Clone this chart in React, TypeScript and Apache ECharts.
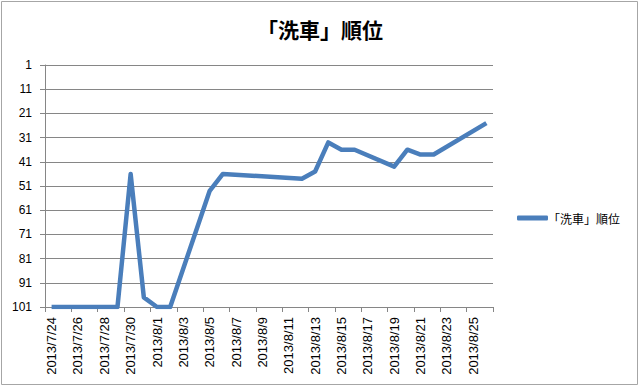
import React, { useEffect, useRef } from "react";
import * as echarts from "echarts";

const title = "「洗車」順位";
const seriesName = "「洗車」順位";
const categories = [
  "2013/7/24", "2013/7/25", "2013/7/26", "2013/7/27", "2013/7/28", "2013/7/29", "2013/7/30", "2013/7/31",
  "2013/8/1", "2013/8/2", "2013/8/3", "2013/8/4", "2013/8/5", "2013/8/6", "2013/8/7", "2013/8/8",
  "2013/8/9", "2013/8/10", "2013/8/11", "2013/8/12", "2013/8/13", "2013/8/14", "2013/8/15", "2013/8/16",
  "2013/8/17", "2013/8/18", "2013/8/19", "2013/8/20", "2013/8/21", "2013/8/22", "2013/8/23", "2013/8/24",
  "2013/8/25", "2013/8/26",
];
const ranks: (number | null)[] = [
  101, 101, 101, 101, 101, 101, 46, 97,
  101, 101, null, null, 53, 46, null, null,
  null, null, null, 48, 45, 33, 36, 36,
  null, null, 43, 36, 38, 38, null, null,
  null, 25,
];
const yMin = 1;
const yMax = 101;
const yStep = 10;

export default function App() {
  const ref = useRef<HTMLDivElement>(null);
  useEffect(() => {
    if (!ref.current) return;
    const chart = echarts.init(ref.current, undefined, { renderer: "svg" });
    const font = "'Liberation Sans', 'Noto Sans CJK JP', sans-serif";
    chart.setOption({
      animation: false,
      backgroundColor: "#ffffff",
      title: {
        text: title,
        left: "center",
        top: 13,
        textStyle: { fontFamily: "'Noto Sans CJK JP', sans-serif", fontSize: 21, fontWeight: "bold", color: "#000" },
      },
      graphic: [
        {
          type: "rect",
          shape: { x: 1.5, y: 1.5, width: 636, height: 383 },
          style: { fill: "none", stroke: "#a6a6a6", lineWidth: 1 },
          silent: true,
        },
      ],
      legend: {
        orient: "vertical",
        left: 512,
        top: 207,
        itemWidth: 31,
        itemHeight: 5,
        itemGap: 0,
        icon: "roundRect",
        data: [seriesName],
        textStyle: { fontFamily: "'Noto Sans CJK JP', sans-serif", fontSize: 12, color: "#000", padding: [0, 0, 0, -5] },
      },
      grid: { left: 45, right: 147, top: 65, bottom: 80, containLabel: false },
      xAxis: {
        type: "category",
        data: categories,
        boundaryGap: true,
        axisLine: { show: true, lineStyle: { color: "#868686", width: 1 } },
        axisTick: { show: true, interval: 1, length: 5, lineStyle: { color: "#868686" } },
        axisLabel: {
          interval: 1,
          rotate: 90,
          fontFamily: font,
          fontSize: 13,
          color: "#000",
          margin: 10,
        },
        splitLine: { show: false },
      },
      yAxis: {
        type: "value",
        inverse: true,
        min: yMin,
        max: yMax,
        interval: yStep,
        axisLine: { show: true, lineStyle: { color: "#868686", width: 1 } },
        axisTick: { show: true, length: 5, lineStyle: { color: "#868686" } },
        axisLabel: { fontFamily: font, fontSize: 12, color: "#000", margin: 13 },
        splitLine: { show: true, lineStyle: { color: "#868686", width: 1 } },
      },
      series: [
        {
          name: seriesName,
          type: "line",
          data: ranks,
          connectNulls: true,
          showSymbol: false,
          symbol: "none",
          lineStyle: { color: "#4a7ebb", width: 4.5, join: "round" },
          itemStyle: { color: "#4a7ebb" },
        },
      ],
    });
    return () => chart.dispose();
  }, []);
  return (
    <div
      ref={ref}
      style={{ position: "fixed", left: 0, top: 0, width: 640, height: 387 }}
    />
  );
}
